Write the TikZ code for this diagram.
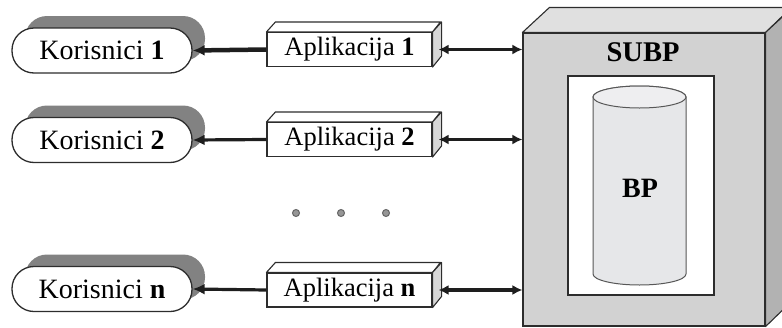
\documentclass[tikz,border=0pt]{standalone}
\usepackage{fontspec}
\setmainfont{Liberation Serif}
\usetikzlibrary{calc,arrows.meta,shadows}
\definecolor{shadowgray}{RGB}{130,130,130}
\definecolor{edge}{RGB}{45,45,45}
\definecolor{subpfront}{RGB}{210,210,210}
\definecolor{subptop}{RGB}{224,224,224}
\definecolor{subpside}{RGB}{178,178,178}
\definecolor{cylbody}{RGB}{230,231,233}
\definecolor{cyltop}{RGB}{238,238,240}
\definecolor{appside}{RGB}{215,215,215}
\definecolor{dotgray}{RGB}{150,150,150}
\definecolor{arrowc}{RGB}{30,30,30}
\tikzset{
  txt/.style={font=\fontsize{26.5}{30}\selectfont},
  pill/.style={font=\fontsize{28}{30}\selectfont,draw=edge,line width=1.3pt,fill=white,rounded corners=22pt,
    minimum width=180pt,minimum height=45pt,inner sep=0pt,
    general shadow={fill=shadowgray,shadow xshift=13pt,shadow yshift=12pt}},
  appbox/.style={txt,draw=edge,line width=1.1pt,fill=white,minimum width=165pt,
    minimum height=34pt,inner sep=0pt},
  face/.style={draw=edge,line width=1.1pt,line join=round},
  headL/.style={-{Latex[length=12pt,width=11pt]}},
  headD/.style={{Latex[length=10pt,width=10pt]}-{Latex[length=10pt,width=10pt]}},
  dotc/.style={circle,fill=dotgray,draw=black!60,line width=1pt,minimum size=7pt,inner sep=0pt}
}
\begin{document}
\begin{tikzpicture}[x=1pt,y=-1pt]
\useasboundingbox (0,0) rectangle (782,327);
% SUBP box
\node[draw=edge,line width=1.1pt,fill=subpfront,minimum width=242pt,minimum height=293pt,inner sep=0pt] (subp) at (644,179.5) {};
\fill[subptop,face] (subp.north west) -- ++(27,-25) -- ++(242,0) -- (subp.north east) -- cycle;
\fill[subpside,face] (subp.north east) -- ++(27,-25) -- ++(0,293) -- (subp.south east) -- cycle;
\node[font=\fontsize{28.5}{30}\selectfont\bfseries] (subplabel) at (643,52) {SUBP};
\node[draw=edge,line width=1.1pt,fill=white,minimum width=146pt,minimum height=219pt,inner sep=0pt] (inner) at (641,185.5) {};
% cylinder
\draw[draw=edge!80,line width=1pt,fill=cylbody] (593,97) -- (593,274)
  arc[start angle=180,end angle=0,x radius=46.5,y radius=11] -- (686,97)
  arc[start angle=0,end angle=-180,x radius=46.5,y radius=11] -- cycle;
\draw[draw=edge!80,line width=1pt,fill=cyltop] (639.5,97) ellipse[x radius=46.5,y radius=11];
\node[font=\fontsize{28}{30}\selectfont\bfseries] (bp) at (640,188) {BP};
% users
\node[pill] (k1) at (102,50.5) {Korisnici \textbf{1}};
\node[pill] (k2) at (102,140) {Korisnici \textbf{2}};
\node[pill] (kn) at (102,289) {Korisnici \textbf{n}};
% applications
\foreach \n/\y/\l in {a1/49.5/1,a2/139.5/2,an/290/n}{
  \node[appbox] (\n) at (349.5,\y) {Aplikacija \textbf{\l}};
  \fill[white,face] (\n.north west) -- ++(9,-10) -- ++(165,0) -- (\n.north east) -- cycle;
  \fill[appside,face] (\n.north east) -- ++(9,-10) -- ++(0,34) -- (\n.south east) -- cycle;
}
% connectors
\draw[line width=4.5pt,arrowc,headL] (a1.west) -- (k1.east);
\draw[line width=3.2pt,arrowc,headL] (a2.west) -- (k2.east);
\draw[line width=3.2pt,arrowc,headL] (an.west) -- (kn.east);
\draw[line width=3.2pt,arrowc,headD] ([xshift=6pt]a1.east) -- (a1.east -| subp.west);
\draw[line width=3.2pt,arrowc,headD] ([xshift=6pt]a2.east) -- (a2.east -| subp.west);
\draw[line width=3.2pt,arrowc,headD] ([xshift=6pt]an.east) -- (an.east -| subp.west);
% dots
\node[dotc] (d1) at (296,213) {};
\node[dotc] (d2) at (341,213) {};
\node[dotc] (d3) at (386,213) {};
\end{tikzpicture}
\end{document}
